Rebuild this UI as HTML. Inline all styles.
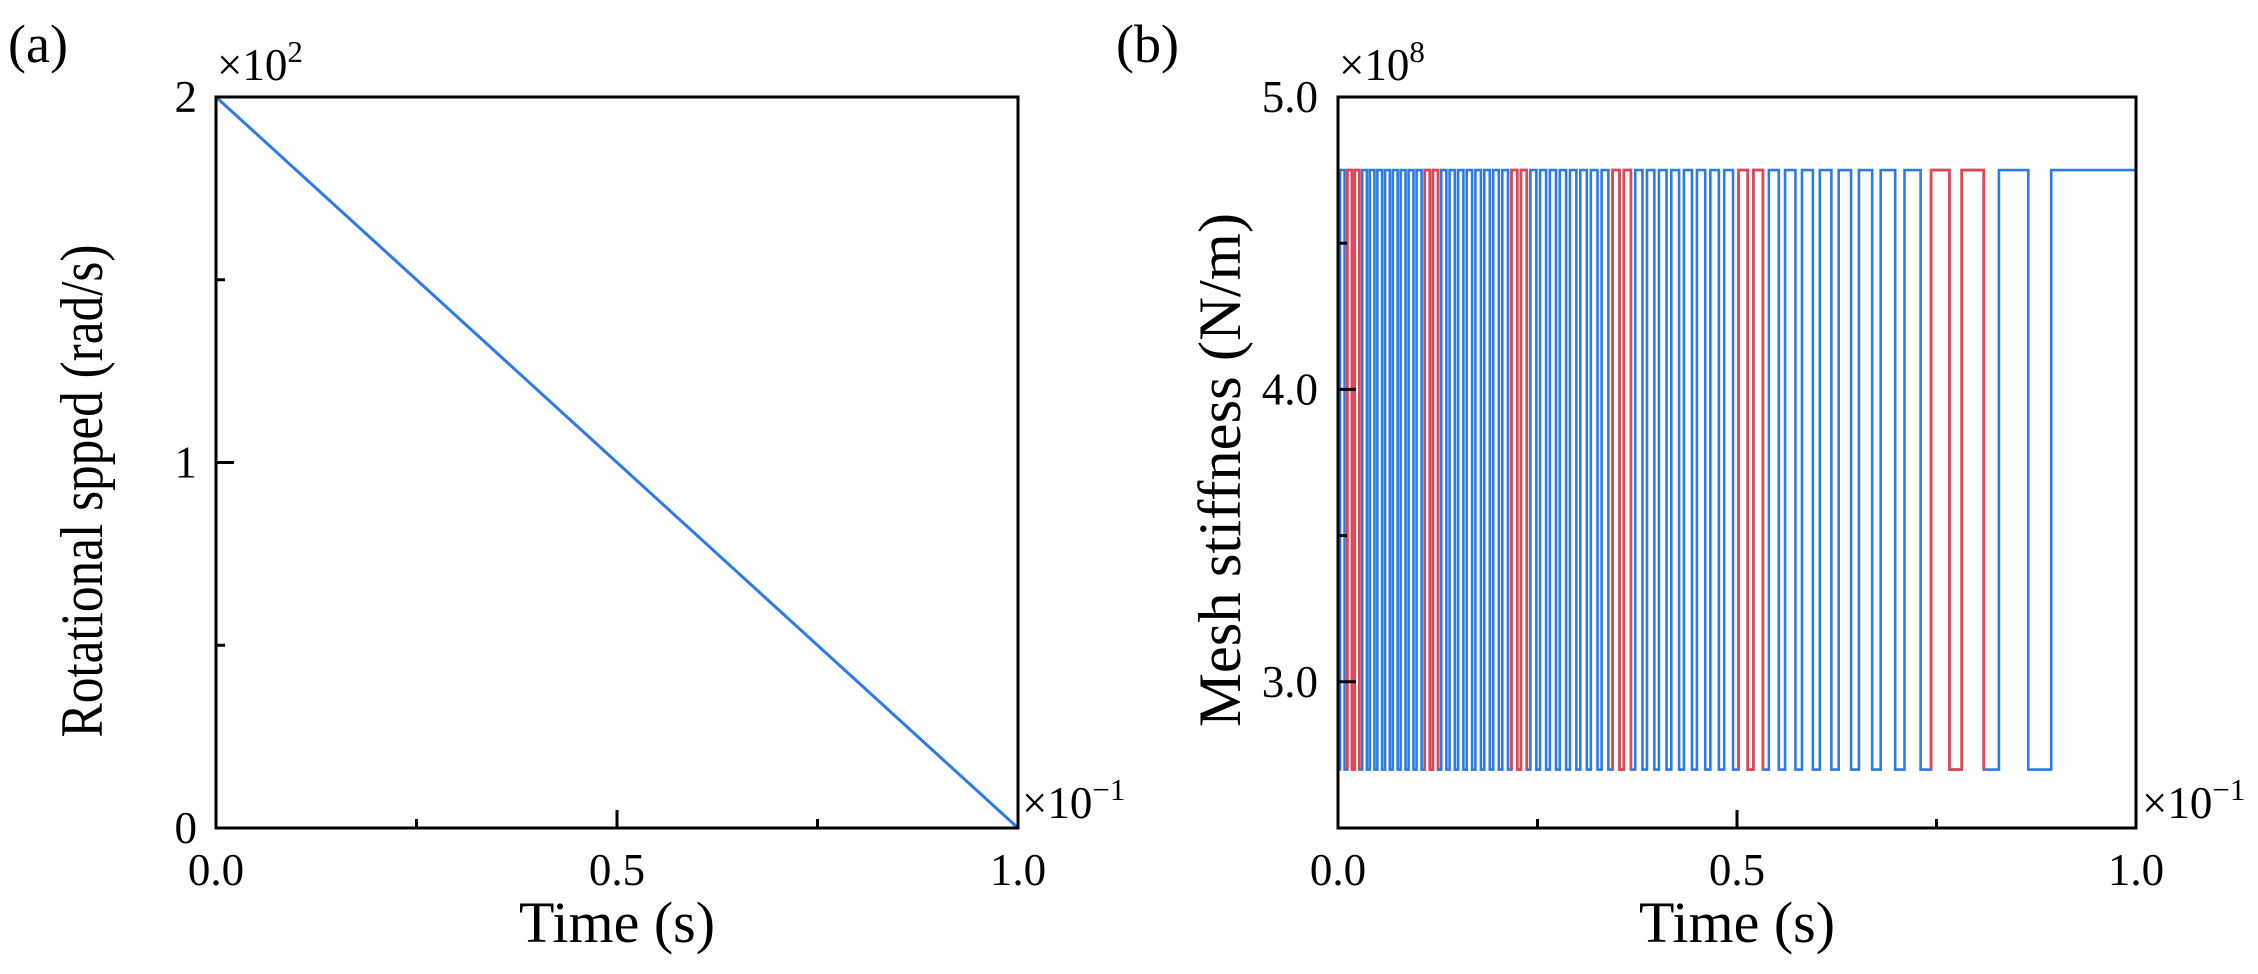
<!DOCTYPE html>
<html><head><meta charset="utf-8"><style>
html,body{margin:0;padding:0;background:#fff;}
svg{display:block;font-family:"Liberation Serif",serif;}
</style></head><body>
<svg id="fig" width="2258" height="974" viewBox="0 0 2258 974" xmlns="http://www.w3.org/2000/svg">
<g id="pa"></g>
<g id="pb"></g>
</svg>
<script>
// Panel (a) data
const speedTimes = [0, 1.0];          // ×10^-1 s
const speedValues = [2, 0];           // ×10^2 rad/s
const aXTicks = [0, 0.5, 1.0];
const aXTickLabels = ["0.0", "0.5", "1.0"];
const aXMinor = [0.25, 0.75];
const aYTicks = [0, 1, 2];
const aYTickLabels = ["0", "1", "2"];
const aYMinor = [0.5, 1.5];
// Panel (b) data
const stiffLevels = [4.75, 2.70];     // high, low ×10^8 N/m
const meshCycles = [54.9];            // total mesh cycles over the run
const lowPhaseStart = [0.9];          // phase fraction where single-contact starts
const lowPhaseWidth = [0.38];
const redEvery = [10];
const redFirst = [1];
const bXTicks = [0, 0.5, 1.0];
const bXTickLabels = ["0.0", "0.5", "1.0"];
const bXMinor = [0.25, 0.75];
const bYTicks = [3.0, 4.0, 5.0];
const bYTickLabels = ["3.0", "4.0", "5.0"];
const bYMinor = [3.5, 4.5];

const NS = "http://www.w3.org/2000/svg";
function mk(parent, tag, attrs, text){
  const e = document.createElementNS(NS, tag);
  for (const k in attrs) e.setAttribute(k, attrs[k]);
  if (text !== undefined) e.textContent = text;
  parent.appendChild(e); return e;
}
const BLUE = "#2c7be6", RED = "#e8434f";

function axes(g, L, R, T, B, xs, ys, xt, xtl, xm, yt, ytl, ym, ylabX) {
  for (let i = 0; i < xt.length; i++) {
    const x = xs(xt[i]);
    const t = mk(g, "line", {x1:x, x2:x, y1:B, y2:B-18, stroke:"#000","stroke-width":3});
    
    
    const l = mk(g, "text", {x:x, y:B+57, "font-size":45, "text-anchor":"middle"}, xtl[i]);
    
    
  }
  for (const v of xm) {
    const x = xs(v);
    const t = mk(g, "line", {x1:x, x2:x, y1:B, y2:B-9, stroke:"#000","stroke-width":3});
    
    
  }
  for (let i = 0; i < yt.length; i++) {
    const y = ys(yt[i]);
    const t = mk(g, "line", {x1:L, x2:L+18, y1:y, y2:y, stroke:"#000","stroke-width":3});
    
    
    const l = mk(g, "text", {x:ylabX, y:y+15, "font-size":45, "text-anchor":"end"}, ytl[i]);
    
    
  }
  for (const v of ym) {
    const y = ys(v);
    const t = mk(g, "line", {x1:L, x2:L+9, y1:y, y2:y, stroke:"#000","stroke-width":3});
    
    
  }
  const f = mk(g, "rect", {x:L, y:T, width:R-L, height:B-T, fill:"none", stroke:"#000", "stroke-width":3});
  
  
}

// ---------- Panel (a) ----------
(function(){
  const g = document.getElementById("pa");
  const L=216, R=1018, T=97, B=828;
  const xs = v => L + (v - 0) / 1.0 * (R - L);
  const ys = v => B - (v - 0) / 2.0 * (B - T);
  let d = "";
  for (let i = 0; i < speedTimes.length; i++) d += (i ? "L" : "M") + xs(speedTimes[i]) + " " + ys(speedValues[i]);
  const p = mk(g, "path", {d:d, fill:"none", stroke:BLUE, "stroke-width":3});
  
  
  axes(g, L, R, T, B, xs, ys, aXTicks, aXTickLabels, aXMinor, aYTicks, aYTickLabels, aYMinor, 197);
  let e;
  e = mk(g, "text", {x:8, y:62, "font-size":54}, "(a)");
   
  e = mk(g, "text", {x:217, y:80, "font-size":45}, "×10");
   
  mk(e, "tspan", {dy:-18, "font-size":31}, "2");
  e = mk(g, "text", {x:1022, y:818, "font-size":45}, "×10");
   
  mk(e, "tspan", {dy:-18, "font-size":31}, "−1");
  e = mk(g, "text", {x:617, y:942, "font-size":58, "text-anchor":"middle"}, "Time (s)");
   
  e = mk(g, "text", {x:0, y:0, "font-size":60, "text-anchor":"middle", textLength:493, lengthAdjust:"spacingAndGlyphs", transform:"translate(102,491) rotate(-90)"}, "Rotational spped (rad/s)");
   
})();

// ---------- Panel (b) ----------
(function(){
  const g = document.getElementById("pb");
  const L=1338, R=2136, T=97, B=828;
  const xs = v => L + (v - 0) / 1.0 * (R - L);
  const ys = v => B - (v - 2.5) / 2.5 * (B - T);
  const N = meshCycles[0], s0 = lowPhaseStart[0], w = lowPhaseWidth[0];
  const tOf = ph => 1 - Math.sqrt(Math.max(0, 1 - ph / N));
  const yH = ys(stiffLevels[0]), yL = ys(stiffLevels[1]);
  const lows = [];
  for (let k = -1; k + s0 < N; k++) {
    const a = k + s0, b = k + s0 + w;
    if (b <= 0) continue;
    lows.push([k, tOf(Math.max(0, a)), tOf(Math.min(N, b))]);
  }
  let d = "M" + xs(0) + " " + yH;
  let first = true;
  for (const [k, ta, tb] of lows) {
    if (ta <= 0 && first) d = "M" + xs(0) + " " + yL;
    else d += "L" + xs(ta) + " " + yH + "L" + xs(ta) + " " + yL;
    d += "L" + xs(tb) + " " + yL + "L" + xs(tb) + " " + yH;
    first = false;
  }
  d += "L" + xs(1) + " " + yH;
  const p = mk(g, "path", {d:d, fill:"none", stroke:BLUE, "stroke-width":2.6});
  
  
  for (const [k, ta, tb] of lows) {
    if (k < redFirst[0] || (k - redFirst[0]) % redEvery[0] !== 0) continue;
    const prevEnd = tOf(Math.max(0, k - 1 + s0 + w));
    const nextStart = tOf(Math.min(N, k + 1 + s0));
    const rd = "M" + xs(prevEnd) + " " + yL + "L" + xs(prevEnd) + " " + yH + "L" + xs(ta) + " " + yH +
      "L" + xs(ta) + " " + yL + "L" + xs(tb) + " " + yL + "L" + xs(tb) + " " + yH +
      "L" + xs(nextStart) + " " + yH + "L" + xs(nextStart) + " " + yL;
    const r = mk(g, "path", {d:rd, fill:"none", stroke:RED, "stroke-width":2.6});
    
    
  }
  axes(g, L, R, T, B, xs, ys, bXTicks, bXTickLabels, bXMinor, bYTicks, bYTickLabels, bYMinor, 1318);
  let e;
  e = mk(g, "text", {x:1116, y:62, "font-size":54}, "(b)");
   
  e = mk(g, "text", {x:1339, y:80, "font-size":45}, "×10");
   
  mk(e, "tspan", {dy:-18, "font-size":31}, "8");
  e = mk(g, "text", {x:2142, y:818, "font-size":45}, "×10");
   
  mk(e, "tspan", {dy:-18, "font-size":31}, "−1");
  e = mk(g, "text", {x:1737, y:942, "font-size":58, "text-anchor":"middle"}, "Time (s)");
   
  e = mk(g, "text", {x:0, y:0, "font-size":60, "text-anchor":"middle", textLength:514, lengthAdjust:"spacingAndGlyphs", transform:"translate(1240,470) rotate(-90)"}, "Mesh stiffness (N/m)");
   
})();
</script>
</body></html>
